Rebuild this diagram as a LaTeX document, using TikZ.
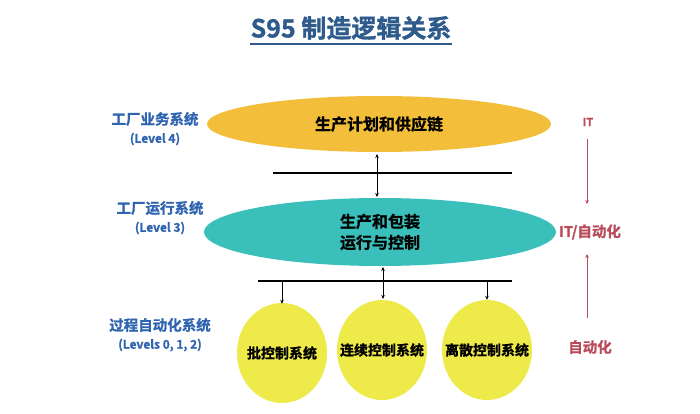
\documentclass[tikz,border=0pt]{standalone}
\usepackage{fontspec}
\setmainfont{Noto Sans CJK SC}[BoldFont={Noto Sans CJK SC Bold},BoldFeatures={FakeBold=1.2}]
\usetikzlibrary{shapes.geometric,arrows.meta,calc}
\definecolor{titleblue}{HTML}{2E5A8C}
\definecolor{lblue}{HTML}{2F64B0}
\definecolor{rred}{HTML}{B84A5A}
\definecolor{gold}{HTML}{F3BF3A}
\definecolor{teal}{HTML}{3ABFBA}
\definecolor{yel}{HTML}{EEEA4A}
\begin{document}
\begin{tikzpicture}[x=1pt,y=-1pt,
  lvl/.style={text=lblue,font=\bfseries\fontsize{14.5}{16}\selectfont,align=center},
  lvlsub/.style={text=lblue,font=\bfseries\fontsize{12}{14}\selectfont},
  rlab/.style={text=rred,font=\bfseries\fontsize{14.5}{16}\selectfont},
  bigell/.style={ellipse,inner sep=0pt,font=\bfseries\fontsize{16}{21}\selectfont,align=center},
  circ/.style={ellipse,inner xsep=-18pt,inner ysep=0pt,fill=yel,minimum width=90pt,minimum height=100pt,font=\bfseries\fontsize{14}{16}\selectfont},
  bus/.style={line width=2.2pt},
  conn/.style={line width=0.8pt,-{Stealth[length=4pt,width=3.5pt]}},
  dconn/.style={line width=0.8pt,{Stealth[length=4pt,width=3.5pt]}-{Stealth[length=4pt,width=3.5pt]}},
  rconn/.style={rred,line width=0.8pt,-{Stealth[length=4pt,width=3.5pt]}}]
\useasboundingbox (0,0) rectangle (700,414);
\fill[white] (0,0) rectangle (700,414);
% title
\node[text=titleblue,font=\bfseries\fontsize{25}{28}\selectfont] (title) at (351,28) {S95 制造逻辑关系};
\draw[titleblue,line width=1.8pt] (title.south west)++(3,1) coordinate (ul1) -- ($(ul1 -| title.south east)+(-3,0)$);
% ellipses
\node[bigell,fill=gold,minimum width=344pt,minimum height=56pt] (plan) at (379,124) {生产计划和供应链};
\node[bigell,fill=teal,minimum width=352pt,minimum height=68pt] (ops) at (380,232) {生产和包装\\运行与控制};
% bus lines
\coordinate (b1l) at (273,173); \coordinate (b1r) at (512,173);
\draw[bus] (b1l) -- (b1r);
\coordinate (b2l) at (258,281); \coordinate (b2r) at (512,281);
\draw[bus] (b2l) -- (b2r);
% circles
\node[circ] (c1) at (282,353) {批控制系统};
\node[circ] (c2) at (382,350) {连续控制系统};
\node[circ] (c3) at (487,350) {离散控制系统};
% connectors
\coordinate (a1t) at (377,154); \coordinate (a1b) at (377,197);
\draw[dconn] (a1t) -- (a1b);
\coordinate (a2t) at (383,267); \coordinate (a2b) at (383,299);
\draw[dconn] (a2t) -- (a2b);
\draw[conn] (b2l -| c1.north) -- ($(c1.north)+(0,1)$);
\draw[conn] (b2l -| c3.north) -- (c3.north);
% left labels
\node[lvl] (l4) at (155,119) {工厂业务系统};
\node[lvlsub] (l4s) at (155,139) {(Level 4)};
\node[lvl] (l3) at (160,208) {工厂运行系统};
\node[lvlsub] (l3s) at (160,228) {(Level 3)};
\node[lvl] (l0) at (160,325) {过程自动化系统};
\node[lvlsub] (l0s) at (160,345) {(Levels 0, 1, 2)};
% right labels
\node[rlab,font=\bfseries\fontsize{11}{13}\selectfont] (it) at (588,122) {IT};
\node[rlab] (itauto) at (590,232) {IT/自动化};
\node[rlab] (auto) at (590,347) {自动化};
\coordinate (r1t) at (587,139); \coordinate (r1b) at (587,204);
\draw[rconn] (r1t) -- (r1b);
\coordinate (r2t) at (587,318); \coordinate (r2b) at (587,254);
\draw[rconn] (r2t) -- (r2b);
\end{tikzpicture}
\end{document}
